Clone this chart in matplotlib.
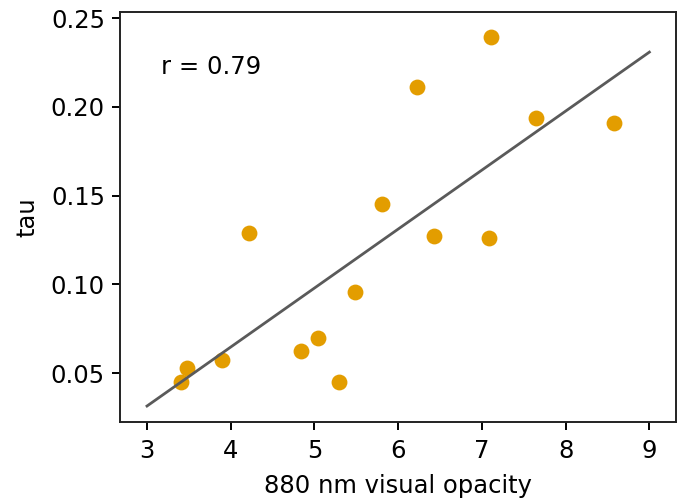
import matplotlib
matplotlib.use("Agg")
import matplotlib.pyplot as plt

opacity = [3.41, 3.48, 3.90, 4.22, 4.84, 5.04, 5.29, 5.48, 5.81, 6.23, 6.43, 7.11, 7.08, 7.64, 8.58]
tau = [0.0449, 0.0528, 0.0573, 0.1289, 0.0624, 0.0697, 0.0449, 0.0956, 0.1452, 0.2111, 0.1272, 0.2393, 0.1261, 0.1937, 0.1908]
fit_x = [3.0, 9.0]
fit_y = [0.0314, 0.2308]
r_label = "r = 0.79"

fs = 17.5
plt.rcParams['font.family'] = ['DejaVu Sans']
fig = plt.figure(figsize=(6.83, 5.0), dpi=100)
ax = fig.add_axes([0.176, 0.156, 0.814, 0.820])
ax.scatter(opacity, tau, s=130, color="#E39D00", zorder=2, linewidths=0)
ax.plot(fit_x, fit_y, color="#5a5a5a", lw=2.0, zorder=3)
ax.text(0.074, 0.865, r_label, transform=ax.transAxes, fontsize=fs, va="center", ha="left")
ax.set_xlim(2.68, 9.32)
ax.set_ylim(0.0224, 0.2534)
ax.set_xticks([3, 4, 5, 6, 7, 8, 9])
ax.set_yticks([0.05, 0.10, 0.15, 0.20, 0.25])
ax.set_yticklabels(["0.05", "0.10", "0.15", "0.20", "0.25"])
ax.tick_params(axis="x", labelsize=fs, length=6, width=1.4, pad=6)
ax.tick_params(axis="y", labelsize=fs, length=6, width=1.4, pad=5)
for s in ax.spines.values():
    s.set_linewidth(1.4)
    s.set_color("#222222")
ax.set_xlabel("880 nm visual opacity", fontsize=fs, labelpad=8)
ax.set_ylabel("tau", fontsize=fs, labelpad=8)
fig.savefig("out.png", dpi=100)
